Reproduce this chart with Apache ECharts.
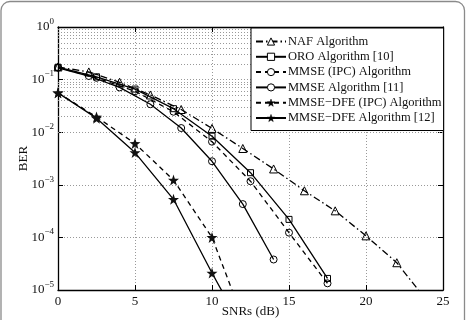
<!DOCTYPE html>
<html><head><meta charset="utf-8">
<script src="https://cdn.jsdelivr.net/npm/echarts@6/dist/echarts.min.js"></script>
<style>html,body{margin:0;padding:0;background:#fff}#c{width:470px;height:320px}</style>
</head><body><div id="c"></div>
<script>
// ---- data ----
const seriesNames = ['NAF Algorithm','ORO Algorithm [10]','MMSE (IPC) Algorithm','MMSE Algorithm [11]','MMSE\u2212DFE (IPC) Algorithm','MMSE\u2212DFE Algorithm [12]'];
const nafX  = [0,2,4,6,8,10,12,14,16,18,20,22,24];
const nafY  = [0.174,0.14,0.089,0.051,0.027,0.0118,0.0049,0.0020,7.7e-4,3.2e-4,1.07e-4,3.3e-5,6e-6];
const oroX  = [0,2.5,5,7.5,10,12.5,15,17.5];
const oroY  = [0.172,0.113,0.066,0.028,0.0084,0.0017,2.2e-4,1.66e-5];
const mmseIpcX = [0,2.5,5,7.5,10,12.5,15,17.5];
const mmseIpcY = [0.17,0.108,0.060,0.0245,0.0066,1.17e-3,1.23e-4,1.34e-5];
const mmseX = [0,2,4,6,8,10,12,14];
const mmseY = [0.168,0.117,0.071,0.034,0.012,2.8e-3,4.3e-4,3.8e-5];
const dfeIpcX = [0,2.5,5,7.5,10,12.5];
const dfeIpcY = [0.056,0.0195,0.0061,1.23e-3,1.0e-4,1.2e-6];
const dfeX = [0,2.5,5,7.5,10,12.5];
const dfeY = [0.056,0.0185,0.0041,5.3e-4,2.1e-5,1e-6];
const xTickLabels = ['0','5','10','15','20','25'];
const yDecadeExps = [-5,-4,-3,-2,-1,0];
const xLabel = 'SNRs (dB)';
const yLabel = 'BER';

// ---- helpers ----
const pairs = (xs, ys) => xs.map((x, i) => [x, ys[i]]);
const minorVals = [];
for (let k = yDecadeExps[0]; k < yDecadeExps[yDecadeExps.length-1]; k++) {
  for (let m = 2; m <= 9; m++) minorVals.push(m * Math.pow(10, k));
}
const STAR = 'path://M0,-10 L2.35,-3.24 9.51,-3.09 3.8,1.24 5.88,8.09 0,4 -5.88,8.09 -3.8,1.24 -9.51,-3.09 -2.35,-3.24Z';
const FONT = '"Liberation Serif","DejaVu Serif",serif';
const gridColor = '#999';
const hollow = {color: 'rgba(255,255,255,0)', borderColor: '#000', borderWidth: 1};
const legendHollow = {color: '#fff', borderColor: '#000', borderWidth: 1};
const legendFilled = {color: '#000', borderColor: '#000', borderWidth: 0.5};
const isStar = [false, false, false, false, true, true];

function mk(name, data, symbol, size, lineType, itemStyle) {
  return {
    name, type: 'line', data, symbol, symbolSize: size, showAllSymbol: true,
    clip: true, z: 5,
    lineStyle: {color: '#000', width: 1.3, type: lineType},
    itemStyle: itemStyle,
    emphasis: {disabled: true}, animation: false
  };
}

const chart = echarts.init(document.getElementById('c'), null, {renderer: 'canvas'});
const expLabel = v => {
  const e = Math.round(Math.log10(v));
  return '{b|10}{s|' + (e < 0 ? '\u2212' + (-e) : e) + '}';
};

chart.setOption({
  animation: false,
  backgroundColor: '#fff',
  textStyle: {fontFamily: FONT},
  graphic: [{
    type: 'rect', silent: true, z: 100,
    shape: {x: 1, y: 1.5, width: 463.5, height: 335, r: 9},
    style: {fill: 'none', stroke: '#8a8a8a', lineWidth: 1.3}
  }],
  grid: {left: 58, top: 27, width: 385, height: 263, containLabel: false, outerBoundsMode: 'none'},
  legend: {
    orient: 'vertical', left: 251, top: 28,
    data: seriesNames.map((n, i) => ({name: n, itemStyle: isStar[i] ? legendFilled : legendHollow})),
    backgroundColor: '#fff', borderColor: '#000', borderWidth: 1,
    padding: [7, 2, 6, 4], itemGap: 2.3, itemWidth: 30, itemHeight: 9,
    textStyle: {fontFamily: FONT, fontSize: 12.5, color: '#111', padding: [0,0,0,-3]},
    selectedMode: false, z: 10
  },
  xAxis: [{
    type: 'value', min: 0, max: 25, interval: 5,
    name: xLabel, nameLocation: 'middle', nameGap: 15, nameMoveOverlap: false,
    nameTextStyle: {fontFamily: FONT, fontSize: 13, color: '#111'},
    axisLine: {show: true, onZero: false, lineStyle: {color: '#000', width: 1.3}},
    axisTick: {show: true, inside: true, length: 5, lineStyle: {color: '#000'}},
    axisLabel: {fontFamily: FONT, fontSize: 13, color: '#111', margin: 5,
      formatter: v => xTickLabels[Math.round(v / 5)]},
    splitLine: {show: true, lineStyle: {color: gridColor, type: [1, 2], width: 1}}
  }, {
    type: 'value', min: 0, max: 25, interval: 5, position: 'top',
    axisLine: {show: true, onZero: false, lineStyle: {color: '#000', width: 1.3}},
    axisTick: {show: true, inside: true, length: 5, lineStyle: {color: '#000'}},
    axisLabel: {show: false}, splitLine: {show: false}
  }],
  yAxis: [{
    type: 'log', logBase: 10, min: 1e-5, max: 1,
    name: yLabel, nameLocation: 'middle', nameGap: 28, nameRotate: 90, nameMoveOverlap: false,
    nameTextStyle: {fontFamily: FONT, fontSize: 13, color: '#111'},
    axisLine: {show: true, onZero: false, lineStyle: {color: '#000', width: 1.3}},
    axisTick: {show: true, inside: true, length: 5, lineStyle: {color: '#000'}},
    axisLabel: {margin: 4, formatter: expLabel,
      rich: {
        b: {fontFamily: FONT, fontSize: 13, color: '#111', lineHeight: 13},
        s: {fontFamily: FONT, fontSize: 9, color: '#111', lineHeight: 9, padding: [0, 0, 11, 0]}
      }},
    splitLine: {show: true, lineStyle: {color: gridColor, type: [1, 2], width: 1}}
  }, {
    type: 'log', logBase: 10, min: 1e-5, max: 1, position: 'right',
    axisLine: {show: true, onZero: false, lineStyle: {color: '#000', width: 1.3}},
    axisTick: {show: true, inside: true, length: 5, lineStyle: {color: '#000'}},
    axisLabel: {show: false}, splitLine: {show: false}
  }],
  series: [
    {
      name: '_grid', type: 'line', data: [], z: 1, silent: true,
      markLine: {
        silent: true, symbol: ['none', 'none'], label: {show: false}, animation: false,
        lineStyle: {color: gridColor, type: [1, 2], width: 1},
        emphasis: {disabled: true},
        data: minorVals.map(v => ({yAxis: v}))
      }
    },
    mk(seriesNames[0], pairs(nafX, nafY), 'triangle', 8, [7, 3, 1.5, 3], hollow),
    mk(seriesNames[1], pairs(oroX, oroY), 'rect', 6, 'solid', hollow),
    mk(seriesNames[2], pairs(mmseIpcX, mmseIpcY), 'circle', 7, [5, 4], hollow),
    mk(seriesNames[3], pairs(mmseX, mmseY), 'circle', 7, 'solid', hollow),
    mk(seriesNames[4], pairs(dfeIpcX, dfeIpcY), STAR, 11, [5, 4], {color: '#111'}),
    mk(seriesNames[5], pairs(dfeX, dfeY), STAR, 11, 'solid', {color: '#111'})
  ]
});
</script>
</body></html>
